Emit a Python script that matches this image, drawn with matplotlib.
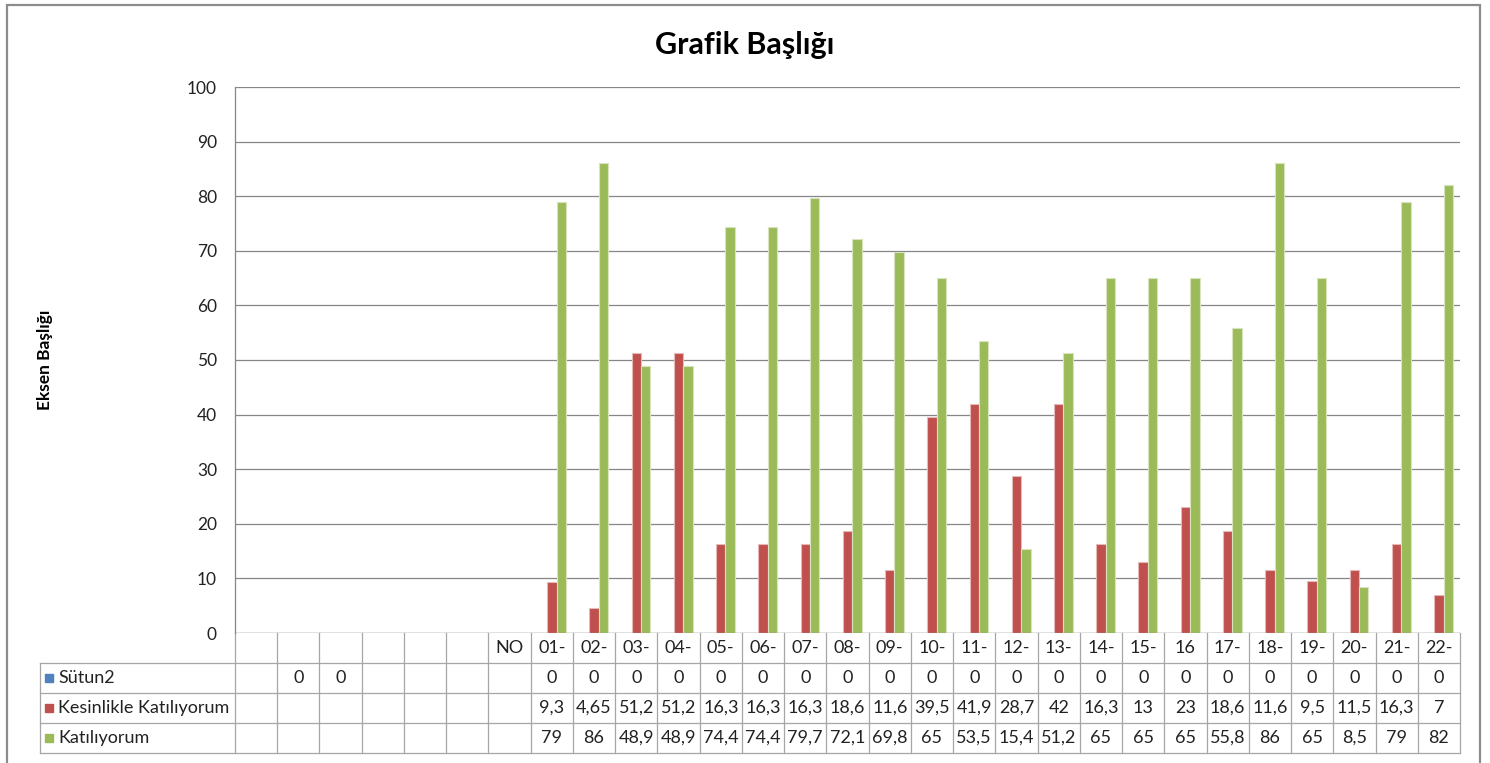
import numpy as np
import matplotlib.pyplot as plt
from matplotlib.transforms import blended_transform_factory
from matplotlib.patches import Rectangle
from matplotlib.lines import Line2D

plt.rcParams['font.family'] = ['Lato', 'DejaVu Sans']

categories = ['', '', '', '', '', '', 'NO', '01-', '02-', '03-', '04-', '05-', '06-', '07-',
              '08-', '09-', '10-', '11-', '12-', '13-', '14-', '15-', '16', '17-',
              '18-', '19-', '20-', '21-', '22-']
sutun2 = [None, 0, 0, None, None, None, None, 0, 0, 0, 0, 0, 0, 0,
          0, 0, 0, 0, 0, 0, 0, 0, 0, 0, 0, 0, 0, 0, 0]
kesinlikle = [None, None, None, None, None, None, None, 9.3, 4.65, 51.2, 51.2, 16.3, 16.3, 16.3,
              18.6, 11.6, 39.5, 41.9, 28.7, 42, 16.3, 13, 23, 18.6, 11.6, 9.5, 11.5, 16.3, 7]
katiliyorum = [None, None, None, None, None, None, None, 79, 86, 48.9, 48.9, 74.4, 74.4, 79.7,
               72.1, 69.8, 65, 53.5, 15.4, 51.2, 65, 65, 65, 55.8, 86, 65, 8.5, 79, 82]

series = [sutun2, kesinlikle, katiliyorum]
names = ['Sütun2', 'Kesinlikle Katılıyorum', 'Katılıyorum']
colors = ['#4F81BD', '#C0504D', '#9BBB59']
edges = ['#b9cde5', '#e6b9b8', '#d7e4bd']

W, H = 1490, 763
fig = plt.figure(figsize=(W / 100, H / 100), dpi=100)
ax = fig.add_axes([235 / W, 1 - 633 / H, (1460 - 235) / W, (633 - 87) / H])

n = len(categories)
x = np.arange(n) + 0.5
bw = 1 / 4.5
for k, (vals, c, e) in enumerate(zip(series, colors, edges)):
    xs = [xi + (k - 1) * bw for xi, v in zip(x, vals) if v is not None]
    hs = [v for v in vals if v is not None]
    ax.bar(xs, hs, width=bw, color=c, edgecolor=e, linewidth=0.8, zorder=3)

ax.set_xlim(0, n)
ax.set_ylim(0, 100)
ax.set_yticks(np.arange(0, 101, 10))
ax.set_xticks([])
ax.tick_params(axis='y', length=0, pad=13, labelsize=12.5, labelcolor='#222222')
ax.yaxis.grid(True, color='#868686', linewidth=0.9, zorder=0)
ax.set_axisbelow(True)
for s in ['top', 'right', 'bottom']:
    ax.spines[s].set_visible(False)
ax.spines['left'].set_color('#868686')
ax.spines['left'].set_linewidth(0.9)

# data table under the plot
line_c = '#a6a6a6'
rows = [633, 663, 693, 723, 753]
fy = lambda p: 1 - p / H
tr = blended_transform_factory(ax.transData, fig.transFigure)

for p in rows[1:]:
    fig.add_artist(Line2D([40 / W, 1460 / W], [fy(p), fy(p)], color=line_c, lw=0.9))
for i in range(n + 1):
    ax.add_artist(Line2D([i, i], [fy(rows[0]), fy(rows[-1])], color=line_c, lw=0.9,
                         transform=tr, clip_on=False))
fig.add_artist(Line2D([40 / W, 40 / W], [fy(rows[1]), fy(rows[-1])], color=line_c, lw=0.9))
ax.axhline(0, color='#868686', lw=0.9, zorder=4)

def fmt(v):
    return f'{v:g}'.replace('.', ',')

tsize = 13
ymid = (fy(rows[0]) + fy(rows[1])) / 2
for xi, lab in zip(x, categories):
    ax.text(xi, ymid, lab, transform=tr, ha='center', va='center', fontsize=tsize,
            color='#222222', clip_on=False)

for r, (vals, name, c) in enumerate(zip(series, names, colors)):
    ym = (fy(rows[r + 1]) + fy(rows[r + 2])) / 2
    for xi, v in zip(x, vals):
        if v is not None:
            ax.text(xi, ym, fmt(v), transform=tr, ha='center', va='center', fontsize=tsize,
                    color='#222222', clip_on=False)
    fig.add_artist(Rectangle((45 / W, ym - 4 / H), 8 / W, 8 / H, color=c,
                             transform=fig.transFigure))
    fig.text(58 / W, ym, name, ha='left', va='center', fontsize=tsize, color='#222222')

fig.text(0.5, fy(45), 'Grafik Başlığı', ha='center', va='center', fontsize=22, fontweight='bold')
fig.text(45 / W, fy(360), 'Eksen Başlığı', rotation=90, ha='center', va='center',
         fontsize=12.5, fontweight='bold')

fig.add_artist(Rectangle((7 / W, -0.1), (1480 - 7) / W, 1.1 - 5 / H, fill=False,
                         edgecolor='#8c8c8c', lw=1.6, transform=fig.transFigure))

fig.savefig('out.png', dpi=100)
